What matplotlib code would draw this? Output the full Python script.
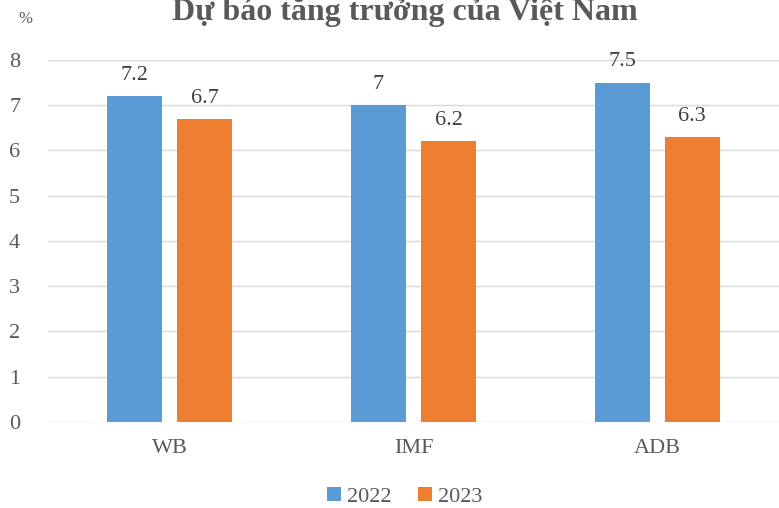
import matplotlib.pyplot as plt
import numpy as np

plt.rcParams['font.family'] = ['Liberation Serif', 'DejaVu Serif']

# dữ liệu
categories = ["WB", "IMF", "ADB"]
years = ["2022", "2023"]
values_2022 = [7.2, 7, 7.5]
values_2023 = [6.7, 6.2, 6.3]
colors = ["#5B9BD5", "#ED7D31"]
text_color = "#595959"

fig = plt.figure(figsize=(7.79, 5.08), dpi=100)
ax = fig.add_axes([0.0616, 0.1693, 0.9384, 0.7127])

x = np.arange(len(categories))
w = 0.226
off = 0.1436
b1 = ax.bar(x - off, values_2022, w, color=colors[0], label=years[0], zorder=3)
b2 = ax.bar(x + off, values_2023, w, color=colors[1], label=years[1], zorder=3)

for bars in (b1, b2):
    ax.bar_label(bars, labels=[f"{v:g}" for v in bars.datavalues],
                 padding=8, fontsize=16, color="#404040")

ax.set_xlim(-0.5, 2.5)
ax.set_ylim(0, 8)
ax.set_yticks(range(0, 9))
ax.yaxis.grid(True, color="#D9D9D9", linewidth=1, zorder=0)
ax.set_axisbelow(True)
for s in ax.spines.values():
    s.set_visible(False)
ax.tick_params(length=0, labelsize=16, labelcolor=text_color)
ax.tick_params(axis="y", pad=20)
ax.tick_params(axis="x", pad=12)
ax.set_xticks(x)
ax.set_xticklabels(categories)

fig.text(0.023, 0.962, "%", fontsize=12, color=text_color, ha="left", va="center")
fig.text(0.52, 0.976, "Dự báo tăng trưởng của Việt Nam", fontsize=23,
         fontweight="bold", color=text_color, ha="center", va="center")

fig.legend(loc="center", bbox_to_anchor=(0.52, 0.022), ncol=2, frameon=False,
           fontsize=16, handlelength=0.6, handleheight=0.6, handletextpad=0.3,
           columnspacing=1.2, labelcolor=text_color)

fig.savefig("out.png", dpi=100)
